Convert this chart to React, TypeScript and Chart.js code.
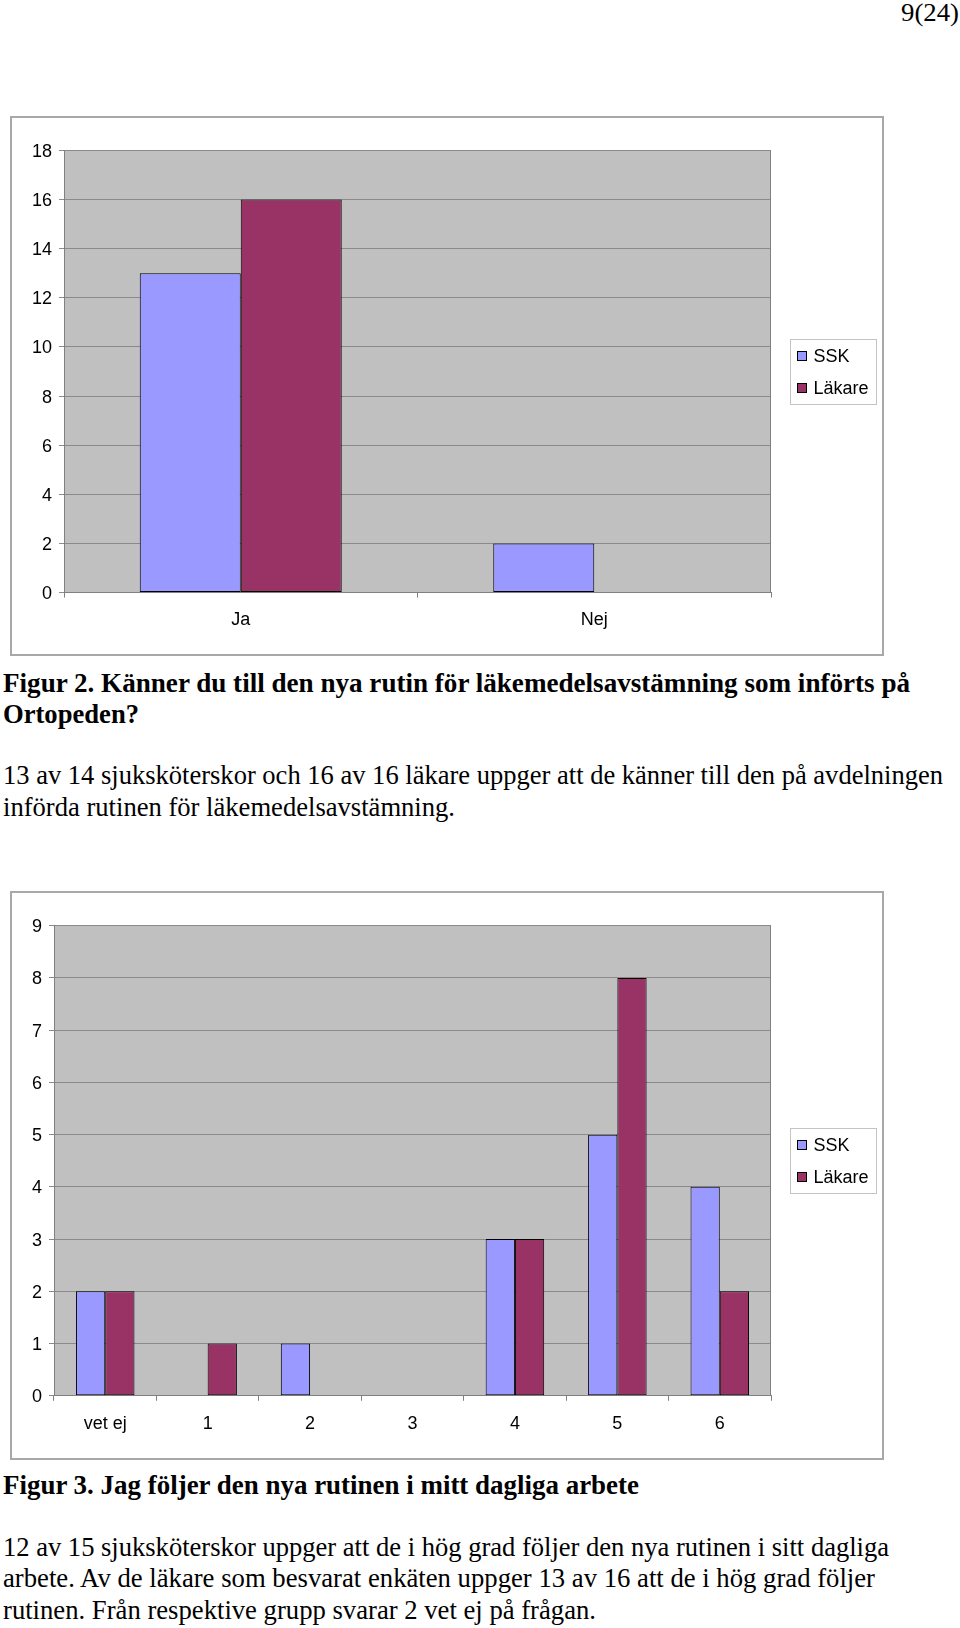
import React, { useEffect, useLayoutEffect, useRef } from "react";
import { Chart, registerables } from "chart.js";

Chart.register(...registerables);

// ---------- Data ----------
const fig2Categories = ["Ja", "Nej"];
const fig2SSK = [13, 2];
const fig2Lakare = [16, 0];
const fig2YMax = 18;
const fig2YStep = 2;

const fig3Categories = ["vet ej", "1", "2", "3", "4", "5", "6"];
const fig3SSK = [2, 0, 1, 0, 3, 5, 4];
const fig3Lakare = [2, 1, 0, 0, 3, 8, 2];
const fig3YMax = 9;
const fig3YStep = 1;

const seriesLabels = ["SSK", "Läkare"];
const seriesColors = ["#9999FF", "#993366"];

const pageNumber = "9(24)";
const textLines = [
  { text: "Figur 2. Känner du till den nya rutin för läkemedelsavstämning som införts på", bold: true },
  { text: "Ortopeden?", bold: true },
  { text: "13 av 14 sjuksköterskor och 16 av 16 läkare uppger att de känner till den på avdelningen", bold: false },
  { text: "införda rutinen för läkemedelsavstämning.", bold: false },
  { text: "Figur 3. Jag följer den nya rutinen i mitt dagliga arbete", bold: true },
  { text: "12 av 15 sjuksköterskor uppger att de i hög grad följer den nya rutinen i sitt dagliga", bold: false },
  { text: "arbete. Av de läkare som besvarat enkäten uppger 13 av 16 att de i hög grad följer", bold: false },
  { text: "rutinen. Från respektive grupp svarar 2 vet ej på frågan.", bold: false },
];
// layout for text lines: [left, right, centerY]
const textLayout = [
  [3, 910, 685],
  [3, 139, 716],
  [3, 943, 777],
  [3, 455, 809],
  [3, 639, 1487],
  [3, 889, 1549],
  [3, 875, 1580],
  [3, 596, 1612],
];

const AXIS_FONT = '"Liberation Sans", Arial, sans-serif';

const framePlugin = {
  id: "excelFrame",
  beforeDraw(chart: any) {
    const { ctx, chartArea: a } = chart;
    ctx.save();
    ctx.fillStyle = "#C0C0C0";
    ctx.fillRect(a.left, a.top, a.right - a.left, a.bottom - a.top);
    ctx.restore();
  },
  beforeDatasetsDraw(chart: any) {
    const { ctx, chartArea: a } = chart;
    ctx.save();
    ctx.strokeStyle = "#808080";
    ctx.lineWidth = 1;
    ctx.beginPath();
    const x = Math.round(a.right) - 0.5;
    ctx.moveTo(x, a.top);
    ctx.lineTo(x, a.bottom);
    ctx.stroke();
    ctx.restore();
  },
  afterDraw(chart: any) {
    const { ctx, chartArea: a } = chart;
    const bw = 87;
    const bh = 66;
    const bx = Math.round(a.right + 19);
    const by = Math.round((a.top + a.bottom) / 2 - bh / 2);
    ctx.save();
    ctx.fillStyle = "#ffffff";
    ctx.fillRect(bx, by, bw, bh);
    ctx.strokeStyle = "#c4c4c4";
    ctx.lineWidth = 1;
    ctx.strokeRect(bx + 0.5, by + 0.5, bw - 1, bh - 1);
    chart.data.datasets.forEach((ds: any, i: number) => {
      const cy = by + 17 + i * 32;
      ctx.fillStyle = ds.backgroundColor;
      ctx.fillRect(bx + 7, Math.round(cy - 5), 10, 10);
      ctx.strokeStyle = "#000";
      ctx.strokeRect(bx + 7.5, Math.round(cy - 5) + 0.5, 9, 9);
      ctx.fillStyle = "#000";
      ctx.font = `18px ${AXIS_FONT}`;
      ctx.textBaseline = "middle";
      ctx.textAlign = "left";
      ctx.fillText(ds.label, bx + 23.5, cy + 1);
    });
    ctx.restore();
  },
};

type BarProps = {
  labels: string[];
  ssk: number[];
  lakare: number[];
  yMax: number;
  yStep: number;
  left: number;
  top: number;
  width: number;
  height: number;
  plot: { left: number; top: number; right: number; bottom: number };
};

function BarChart(p: BarProps) {
  const ref = useRef<HTMLCanvasElement>(null);
  useEffect(() => {
    if (!ref.current) return;
    const yw = p.plot.left;
    const xh = p.height - p.plot.bottom;
    const chart = new Chart(ref.current, {
      type: "bar",
      data: {
        labels: p.labels,
        datasets: [
          {
            label: seriesLabels[0],
            data: p.ssk,
            backgroundColor: seriesColors[0],
            borderColor: "#000000",
            borderWidth: 1,
            borderSkipped: false,
            categoryPercentage: 0.5714,
            barPercentage: 1,
          },
          {
            label: seriesLabels[1],
            data: p.lakare,
            backgroundColor: seriesColors[1],
            borderColor: "#000000",
            borderWidth: 1,
            borderSkipped: false,
            categoryPercentage: 0.5714,
            barPercentage: 1,
          },
        ],
      },
      options: {
        animation: false,
        responsive: false,
        maintainAspectRatio: false,
        layout: {
          padding: { top: p.plot.top, right: p.width - p.plot.right, left: 0, bottom: 0 },
        },
        plugins: {
          legend: { display: false },
          tooltip: { enabled: false },
          title: { display: false },
        },
        scales: {
          x: {
            offset: true,
            grid: {
              offset: true,
              drawOnChartArea: false,
              drawTicks: true,
              tickLength: 5,
              color: "#808080",
            },
            border: { color: "#808080", width: 1 },
            ticks: {
              color: "#000",
              padding: 12,
              font: { family: AXIS_FONT, size: 18 },
              maxRotation: 0,
            },
            afterFit: (s: any) => {
              s.height = xh;
            },
          },
          y: {
            min: 0,
            max: p.yMax,
            grid: {
              color: "#8a8a8a",
              drawTicks: true,
              tickLength: 5,
            },
            border: { color: "#808080", width: 1 },
            ticks: {
              stepSize: p.yStep,
              color: "#000",
              padding: 7,
              labelOffset: 1.5,
              font: { family: AXIS_FONT, size: 18 },
            },
            afterFit: (s: any) => {
              s.width = yw;
            },
          },
        },
      },
      plugins: [framePlugin],
    } as any);
    return () => chart.destroy();
  }, []);
  return (
    <div
      style={{
        position: "absolute",
        left: p.left,
        top: p.top,
        width: p.width,
        height: p.height,
        boxSizing: "border-box",
        border: "2px solid #a8a8a8",
      }}
    >
      <canvas
        ref={ref}
        width={p.width}
        height={p.height}
        style={{ position: "absolute", left: -2, top: -2, width: p.width, height: p.height }}
      />
    </div>
  );
}

function FitLine(props: { text: string; left: number; right: number; cy: number; size: number; bold: boolean }) {
  const ref = useRef<HTMLDivElement>(null);
  useLayoutEffect(() => {
    const fit = () => {
      const el = ref.current;
      if (!el) return;
      el.style.transform = "none";
      const w = el.getBoundingClientRect().width;
      if (w > 0) el.style.transform = `scaleX(${(props.right - props.left) / w})`;
    };
    fit();
    if ((document as any).fonts && (document as any).fonts.ready) {
      (document as any).fonts.ready.then(fit);
    }
  }, []);
  const lh = 30;
  return (
    <div
      ref={ref}
      style={{
        position: "absolute",
        left: props.left,
        top: props.cy - 17,
        lineHeight: lh + "px",
        fontSize: props.size,
        fontWeight: props.bold ? "bold" : "normal",
        fontFamily: '"Liberation Serif", "Times New Roman", serif',
        whiteSpace: "nowrap",
        transformOrigin: "0 0",
        color: "#000",
      }}
    >
      {props.text}
    </div>
  );
}

export default function App() {
  return (
    <div
      style={{
        position: "absolute",
        left: 0,
        top: 0,
        width: 960,
        height: 1628,
        background: "#fff",
        overflow: "hidden",
      }}
    >
      <FitLine text={pageNumber} left={901} right={959} cy={15} size={25} bold={false} />
      <BarChart
        labels={fig2Categories}
        ssk={fig2SSK}
        lakare={fig2Lakare}
        yMax={fig2YMax}
        yStep={fig2YStep}
        left={10}
        top={116}
        width={874}
        height={540}
        plot={{ left: 54, top: 34.5, right: 761, bottom: 476.6 }}
      />
      <BarChart
        labels={fig3Categories}
        ssk={fig3SSK}
        lakare={fig3Lakare}
        yMax={fig3YMax}
        yStep={fig3YStep}
        left={10}
        top={891}
        width={874}
        height={569}
        plot={{ left: 44, top: 34.7, right: 761, bottom: 504.8 }}
      />
      {textLines.map((t, i) => (
        <FitLine
          key={i}
          text={t.text}
          left={textLayout[i][0]}
          right={textLayout[i][1]}
          cy={textLayout[i][2]}
          size={27}
          bold={t.bold}
        />
      ))}
    </div>
  );
}
